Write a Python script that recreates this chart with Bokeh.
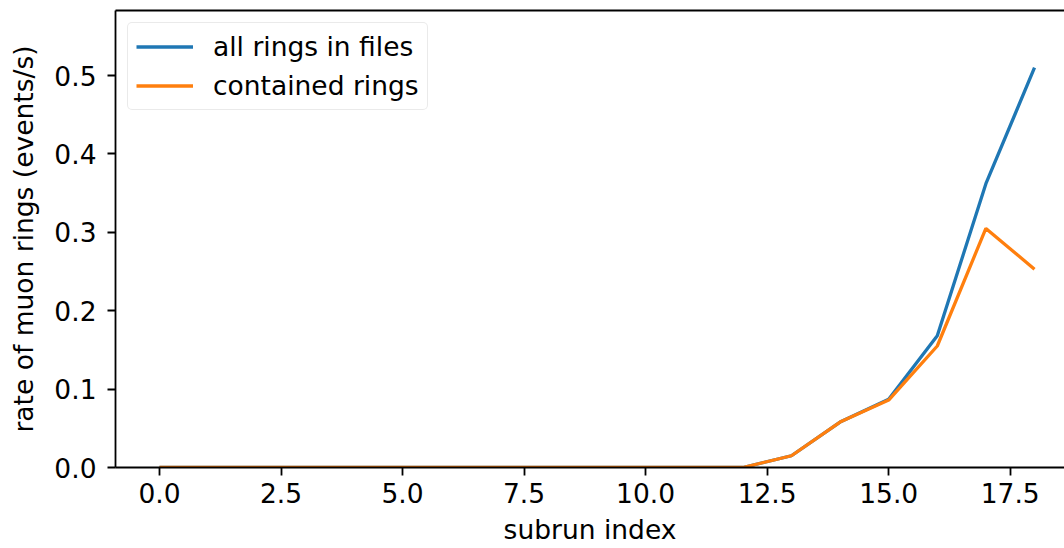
from bokeh.plotting import figure
from bokeh.models import (Range1d, FixedTicker, NumeralTickFormatter, Legend, LegendItem,
                          ColumnDataSource, LinearAxis)
from bokeh.embed import file_html
from bokeh.resources import INLINE

subrun = list(range(19))
all_rings = [0, 0, 0, 0, 0, 0, 0, 0, 0, 0, 0, 0, 0, 0.015, 0.058, 0.087, 0.168, 0.362, 0.510]
contained = [0, 0, 0, 0, 0, 0, 0, 0, 0, 0, 0, 0, 0, 0.015, 0.058, 0.086, 0.155, 0.305, 0.253]
x_ticks = [0.0, 2.5, 5.0, 7.5, 10.0, 12.5, 15.0, 17.5]
y_ticks = [0.0, 0.1, 0.2, 0.3, 0.4, 0.5]
x_label = "subrun index"
y_label = "rate of muon rings (events/s)"

FONT = "DejaVu Sans"
FS = "26.5px"
SPINE = 1.8

p = figure(width=1064, height=547, output_backend="svg", toolbar_location=None,
           x_range=Range1d(-0.905, 18.617), y_range=Range1d(0, 0.583),
           min_border_left=115, min_border_right=0, min_border_top=10, min_border_bottom=80)
p.background_fill_color = "white"
p.border_fill_color = "white"
p.outline_line_color = None
p.grid.visible = False

src = ColumnDataSource(dict(x=subrun, a=all_rings, c=contained))
r1 = p.line("x", "a", source=src, line_color="#1f77b4", line_width=3.3)
r2 = p.line("x", "c", source=src, line_color="#ff7f0e", line_width=3.3)

for ax in (p.xaxis[0], p.yaxis[0]):
    ax.major_label_text_font = FONT
    ax.major_label_text_font_size = FS
    ax.major_label_text_color = "black"
    ax.axis_label_text_font = FONT
    ax.axis_label_text_font_size = FS
    ax.axis_label_text_font_style = "normal"
    ax.axis_label_text_color = "black"
    ax.major_tick_out = 8
    ax.major_tick_in = 0
    ax.minor_tick_out = 0
    ax.minor_tick_in = 0
    ax.axis_line_color = "black"
    ax.axis_line_width = SPINE
    ax.major_tick_line_width = SPINE
    ax.formatter = NumeralTickFormatter(format="0.0")

p.xaxis.ticker = FixedTicker(ticks=x_ticks)
p.yaxis.ticker = FixedTicker(ticks=y_ticks)
p.xaxis.axis_label = x_label
p.yaxis.axis_label = y_label
p.xaxis.major_label_standoff = 7
p.xaxis.axis_label_standoff = 8
p.yaxis.major_label_standoff = 11
p.yaxis.axis_label_standoff = 12

# top spine
top = LinearAxis(ticker=FixedTicker(ticks=[]), major_label_text_font_size="0px",
                 axis_line_color="black", axis_line_width=SPINE,
                 major_tick_out=0, major_tick_in=0, minor_tick_out=0, minor_tick_in=0)
p.add_layout(top, "above")

legend = Legend(items=[LegendItem(label="all rings in files", renderers=[r1]),
                       LegendItem(label="contained rings", renderers=[r2])],
                location="top_left")
legend.label_text_font = FONT
legend.label_text_font_size = FS
legend.label_text_color = "black"
legend.glyph_width = 57
legend.glyph_height = 31
legend.label_height = 31
legend.label_standoff = 20
legend.spacing = 8
legend.padding = 8
legend.margin = 12
legend.border_line_color = "#d6d6d6"
legend.border_line_width = SPINE
legend.background_fill_alpha = 0.8
if "border_radius" in Legend.properties():
    legend.border_radius = 5
p.add_layout(legend)

open("out.html", "w").write(file_html(p, INLINE))
